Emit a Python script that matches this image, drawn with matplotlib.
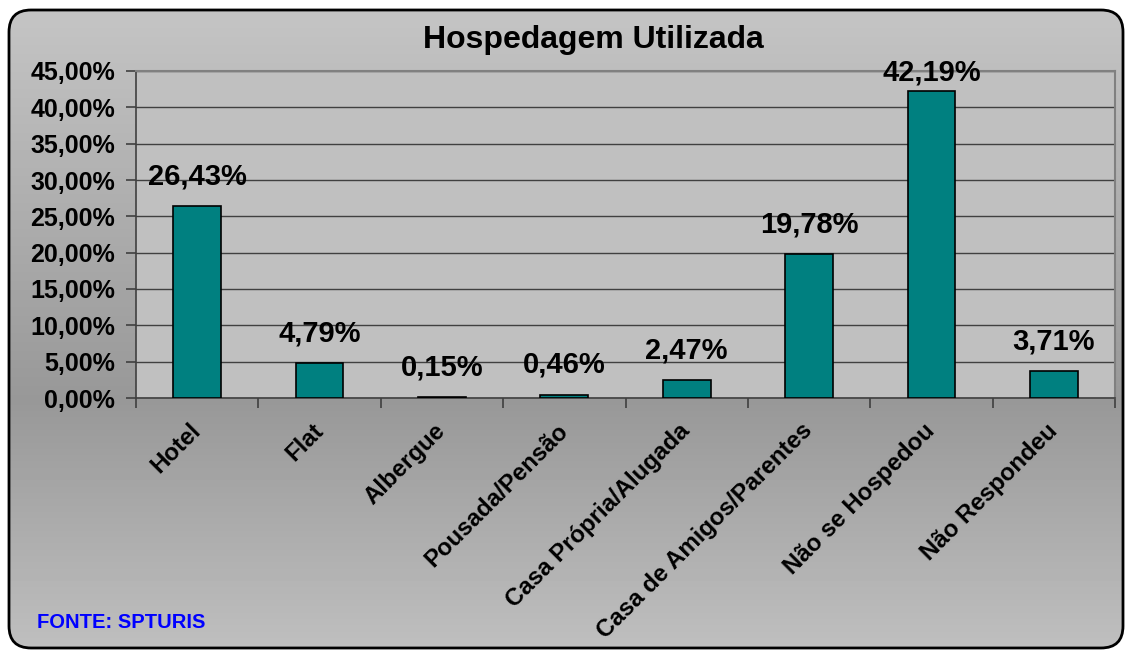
import matplotlib
matplotlib.use("Agg")
import matplotlib.pyplot as plt
import numpy as np
from matplotlib.patches import FancyBboxPatch

plt.rcParams['font.family'] = ['Liberation Sans', 'DejaVu Sans']
plt.rcParams['font.weight'] = 'bold'

categories = ['Hotel', 'Flat', 'Albergue', 'Pousada/Pensão', 'Casa Própria/Alugada',
              'Casa de Amigos/Parentes', 'Não se Hospedou', 'Não Respondeu']
values = [26.43, 4.79, 0.15, 0.46, 2.47, 19.78, 42.19, 3.71]
yticks = [0, 5, 10, 15, 20, 25, 30, 35, 40, 45]

W, H = 1127, 652
fig = plt.figure(figsize=(W / 100, H / 100), dpi=100)
fig.patch.set_facecolor('white')

# background with rounded frame and vertical grey gradient
bg = fig.add_axes([0, 0, 1, 1])
bg.set_xlim(0, W)
bg.set_ylim(H, 0)
bg.axis('off')
rows = np.arange(H)
stops_y = [9, 400, 650]
stops_c = [0.77, 0.595, 0.75]
shade = np.interp(rows, stops_y, stops_c)
grad = np.repeat(shade[:, None], 2, axis=1)
frame = FancyBboxPatch((9, 10), 1114, 638, boxstyle="round,pad=0,rounding_size=22",
                       facecolor='none', edgecolor='black', linewidth=2)
img = bg.imshow(grad, cmap='gray', vmin=0, vmax=1, extent=(0, W, H, 0), aspect='auto')
bg.add_patch(frame)
img.set_clip_path(frame)

ax = fig.add_axes([136 / W, 1 - 398 / H, (1115 - 136) / W, (398 - 71) / H])
ax.set_facecolor('#C0C0C0')
x = np.arange(len(categories))
ax.bar(x, values, width=0.39, color='#008080', edgecolor='black', linewidth=1.2, zorder=3)

ax.set_xlim(-0.5, len(categories) - 0.5)
ax.set_ylim(0, 45)
ax.set_yticks(yticks)
ax.set_yticklabels([f'{v:.2f}%'.replace('.', ',') for v in yticks], fontsize=18, fontweight='bold')
ax.yaxis.grid(True, color='#404040', linewidth=1)
ax.set_axisbelow(True)
ax.tick_params(axis='y', length=7, width=1.2, color='#404040', pad=8)

ax.set_xticks(np.arange(-0.5, len(categories), 1))
ax.set_xticklabels([])
ax.tick_params(axis='x', which='major', length=7, width=1.2, color='#404040')
ax.set_xticks(x, minor=True)
ax.set_xticklabels(categories, minor=True, rotation=45, ha='right', va='center',
                   rotation_mode='anchor', fontsize=17.3, fontweight='bold')
ax.tick_params(axis='x', which='minor', length=0, pad=21)
for lbl in ax.get_xticklabels(minor=True):
    lbl.set_x(lbl.get_position()[0])

for s in ['left', 'bottom']:
    ax.spines[s].set_color('#404040')
    ax.spines[s].set_linewidth(1.2)
for s in ['top', 'right']:
    ax.spines[s].set_color('#808080')
    ax.spines[s].set_linewidth(1.5)

for xi, v in zip(x, values):
    ax.text(xi, min(v + 3.0, 43.7), f'{v:.2f}%'.replace('.', ','), ha='center', va='baseline',
            fontsize=21, fontweight='bold', zorder=4)

fig.text(593 / W, 1 - 40 / H, 'Hospedagem Utilizada', ha='center', va='center',
         fontsize=23, fontweight='bold')
fig.text(37 / W, 1 - 623 / H, 'FONTE: SPTURIS', ha='left', va='center',
         fontsize=14.5, fontweight='bold', color='#0000FF')

fig.savefig('out.png', dpi=100)
